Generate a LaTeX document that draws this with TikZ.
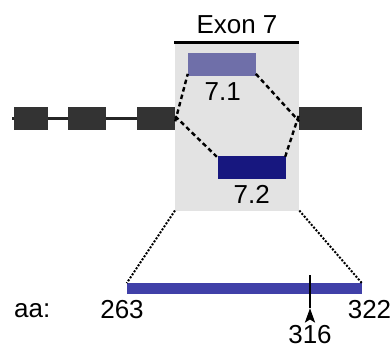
\documentclass[tikz,border=0pt]{standalone}
\usepackage{fontspec}
\setmainfont{Liberation Sans}
\usetikzlibrary{backgrounds}
\definecolor{exdark}{HTML}{333333}
\definecolor{exbg}{HTML}{E3E3E3}
\definecolor{isoA}{HTML}{6F6FA9}
\definecolor{isoB}{HTML}{17177F}
\definecolor{protbar}{HTML}{4040A8}
\begin{document}
\begin{tikzpicture}[x=1pt,y=-1pt,
  lbl/.style={font=\fontsize{26}{30}\selectfont, inner sep=0pt, anchor=base},
  exonblk/.style={fill=exdark, draw=none, inner sep=0pt, minimum height=22.7pt},
  splice/.style={line width=2.4pt, dash pattern=on 4.5pt off 3.2pt},
  zoomln/.style={line width=2pt, dash pattern=on 2pt off 1.6pt},
  intron/.style={line width=2.4pt, draw=black!85}]
\useasboundingbox (0,0) rectangle (392,349);

% alternative exon region
\fill[exbg] (175,42) rectangle (299.3,210.5);
\draw[line width=2.4pt] (174.3,42.3) -- (299.3,42.3);
\node[lbl] (exlab) at (237,33) {Exon 7};

% intron backbone and constitutive exons
\coordinate (istart) at (12,118.3);
\node[exonblk, minimum width=34pt] (e1) at (31,118.3) {};
\node[exonblk, minimum width=38pt] (e2) at (87,118.3) {};
\node[exonblk, minimum width=38pt] (e3) at (156,118.3) {};
\node[exonblk, minimum width=62.4pt] (e4) at (330.5,118.3) {};
\begin{scope}[on background layer]
  \draw[intron] (istart) -- (e3.west);
\end{scope}

% mutually exclusive variants
\node[fill=isoA, inner sep=0pt, minimum width=67.7pt, minimum height=22.7pt] (v1) at (221.8,64.3) {};
\node[fill=isoB, inner sep=0pt, minimum width=68pt, minimum height=22.7pt] (v2) at (252,167.3) {};
\node[lbl] (v1lab) at (222.7,100.7) {7.1};
\node[lbl] (v2lab) at (251.7,203.3) {7.2};

% splice junctions
\draw[splice] ([yshift=-3pt]e3.east) -- ([yshift=2pt]v1.south west);
\draw[splice] ([yshift=2pt]e3.east) -- ([xshift=-1pt,yshift=-1pt]v2.north west);
\draw[splice] ([yshift=2pt]v1.south east) -- ([yshift=-3pt]e4.west);
\draw[splice] ([xshift=-1pt,yshift=-1pt]v2.north east) -- ([yshift=4pt]e4.west);

% protein segment
\node[fill=protbar, inner sep=0pt, minimum width=234.7pt, minimum height=11pt] (bar) at (244.3,288.8) {};
\coordinate (gbl) at (175,210.5);
\coordinate (gbr) at (299.3,210.5);
\draw[zoomln] (gbl) -- (bar.north west);
\draw[zoomln] (gbr) -- (bar.north east);

\node[lbl, anchor=base west] (aalab) at (14,317) {aa:};
\node[lbl] (n263) at (122,318.5) {263};
\node[lbl] (n322) at (369.5,318.5) {322};
\node[lbl] (n316) at (310,343.5) {316};

% site marker
\coordinate (mtop) at (310,275);
\coordinate (mtip) at (310,308.3);
\draw[line width=2.2pt] (mtop) -- (mtip);
\fill (mtip) -- (315.2,322.7) -- (310,319.5) -- (304.8,322.7) -- cycle;
\end{tikzpicture}
\end{document}
